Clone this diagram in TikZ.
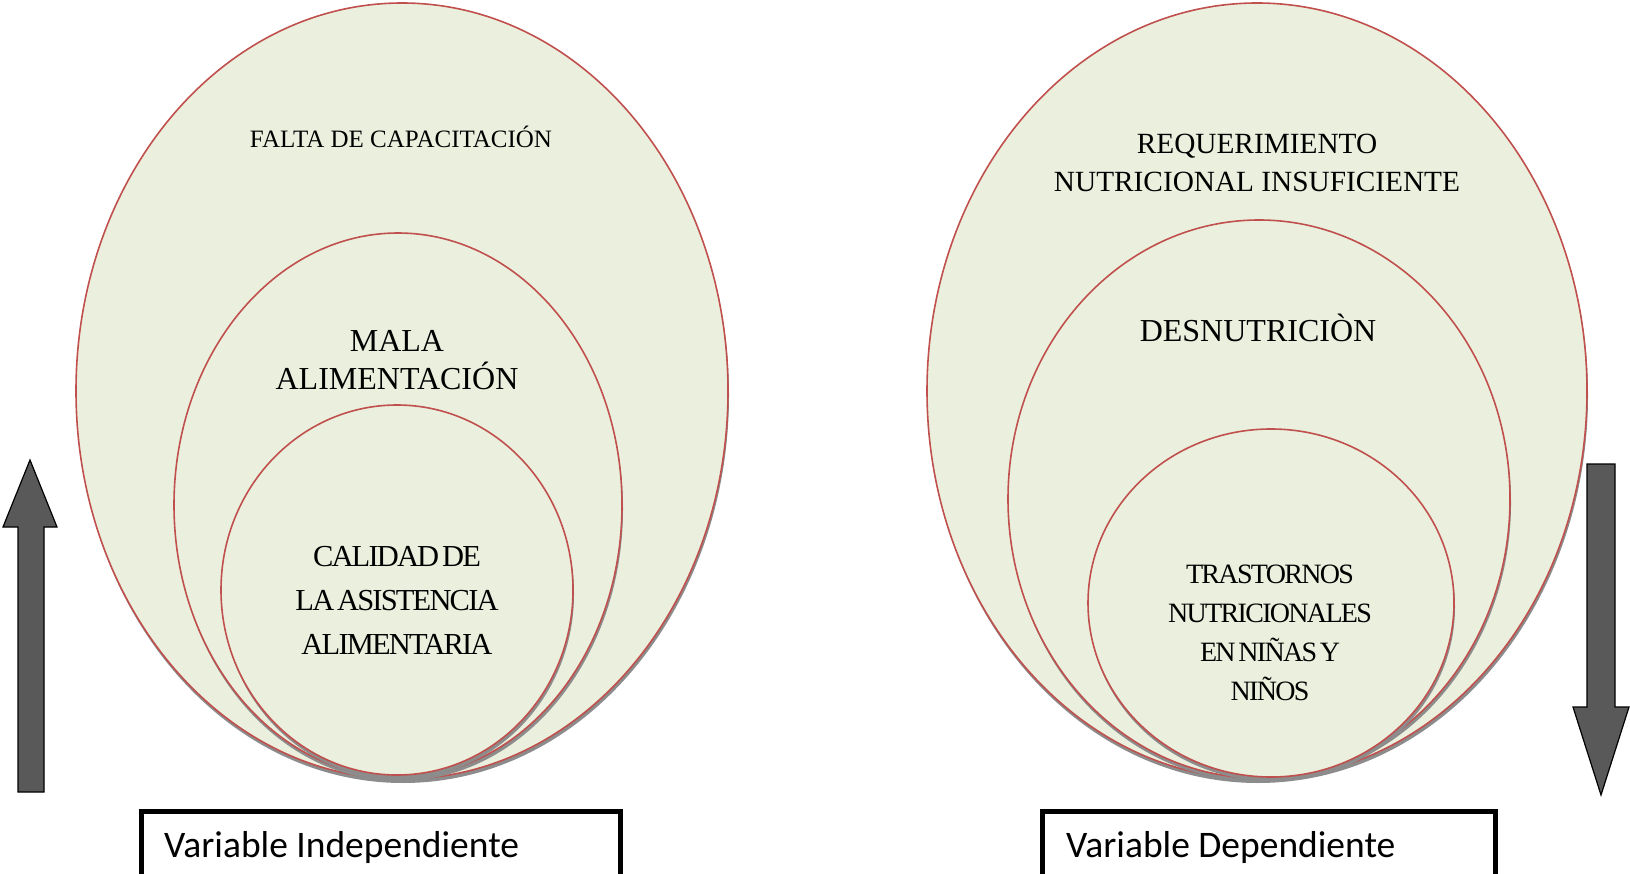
\documentclass[tikz,border=0pt]{standalone}
\usepackage{fontspec}
\setmainfont{Liberation Serif}
\newfontfamily\calibri{Carlito}
\newfontfamily\tightfont[LetterSpace=-6,WordSpace=0.5]{Liberation Serif}
\definecolor{ringfill}{RGB}{235,240,222}
\definecolor{ringline}{RGB}{192,80,77}
\definecolor{arrowgray}{RGB}{89,89,89}
\begin{document}
\begin{tikzpicture}[x=1pt,y=-1pt,
  ring/.style={fill=ringfill,draw=ringline,line width=1.6pt},
  ringshadow/.style={fill=black!45},
  bigarrow/.style={fill=arrowgray,draw=black,line width=1.2pt,line join=miter},
  varbox/.style={draw=black,line width=5pt},
  lbl/.style={align=center,inner sep=0pt}]
\useasboundingbox (0,0) rectangle (1630,874);
\clip (0,0) rectangle (1630,874);
% rings: centre x / centre y / x radius / y radius
\foreach \cx/\cy/\rx/\ry in {402/391/326/388,398/505/224/272,397/590/176/185,
    1257/391/330/388,1259/499/251/279,1271/603/183/174}
  {
  \fill[ringshadow] (\cx+1,\cy+4) ellipse [x radius=\rx,y radius=\ry];
  \draw[ring] (\cx,\cy) ellipse [x radius=\rx,y radius=\ry];
  }
% left side
\node[lbl,anchor=base,font=\fontsize{25}{30}\selectfont] (falta) at (401,148) {FALTA DE CAPACITACIÓN};
\node[lbl,font=\fontsize{32}{38}\selectfont] (mala) at (397,360) {MALA\\ALIMENTACIÓN};
\node[lbl,font=\tightfont\fontsize{30.5}{44}\selectfont] (calidad) at (397,600) {CALIDAD DE\\LA ASISTENCIA\\ALIMENTARIA};
% right side
\node[lbl,font=\fontsize{29.3}{38}\selectfont] (requerimiento) at (1257,163) {REQUERIMIENTO\\NUTRICIONAL INSUFICIENTE};
\node[lbl,anchor=base,font=\fontsize{32}{38}\selectfont] (desnutricion) at (1258,342) {DESNUTRICIÒN};
\node[lbl,font=\tightfont\fontsize{28}{39}\selectfont] (trastornos) at (1270,633) {TRASTORNOS\\NUTRICIONALES\\EN NIÑAS Y\\NIÑOS};
% arrows
\draw[bigarrow] (30,460) -- (57,527) -- (44,527) -- (44,792) -- (18,792) -- (18,527) -- (3,527) -- cycle;
\draw[bigarrow] (1587,464) -- (1615,464) -- (1615,707) -- (1629,707) -- (1601,795) -- (1573,707) -- (1587,707) -- cycle;
% variable boxes
\draw[varbox] (141,811) rectangle (620,895);
\draw[varbox] (1042,811) rectangle (1495,895);
\node[lbl,anchor=base west,font=\calibri\fontsize{37.5}{44}\selectfont] (indep) at (164,857) {Variable Independiente};
\node[lbl,anchor=base west,font=\calibri\fontsize{37.5}{44}\selectfont] (dep) at (1066,857) {Variable Dependiente};
\end{tikzpicture}
\end{document}
